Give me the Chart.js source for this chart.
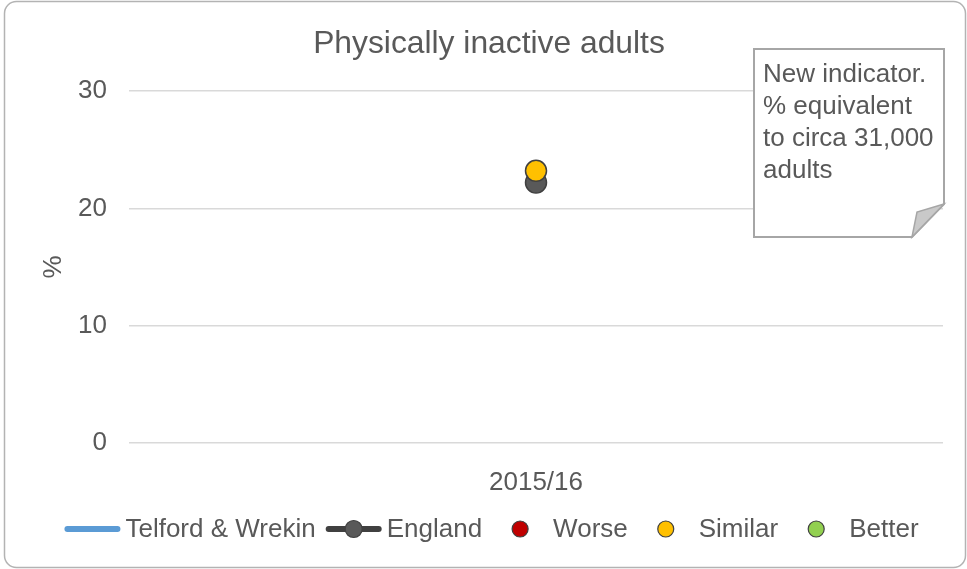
<!DOCTYPE html>
<html>
<head>
<meta charset="utf-8">
<style>
  html, body { margin: 0; padding: 0; background: #ffffff; }
  #wrap { width: 967px; height: 569px; }
</style>
<script src="https://cdn.jsdelivr.net/npm/chart.js@4/dist/chart.umd.min.js"></script>
</head>
<body>
<div id="wrap"><canvas id="c" width="967" height="569"></canvas></div>
<script>
// ---- Data ----
const chartTitle = 'Physically inactive adults';
const categories = ['2015/16'];
const telfordValues = [23.2];
const englandValues = [22.2];
const worseValues = [null];
const similarValues = [23.2];
const betterValues = [null];
const yTickValues = [0, 10, 20, 30];
const yAxisTitle = '%';
const calloutLines = ['New indicator.', '% equivalent', 'to circa 31,000', 'adults'];

const FONT = '"Liberation Sans", Arial, sans-serif';
const TEXT = '#595959';

// ---- Plugins ----
const backgroundFrame = {
  id: 'backgroundFrame',
  beforeDraw(chart) {
    const ctx = chart.ctx;
    ctx.save();
    ctx.fillStyle = '#ffffff';
    ctx.fillRect(0, 0, chart.width, chart.height);
    ctx.restore();
  },
  afterDraw(chart) {
    const ctx = chart.ctx;
    ctx.save();
    ctx.strokeStyle = '#b3b3b3';
    ctx.lineWidth = 1.5;
    ctx.beginPath();
    ctx.roundRect(4.5, 1.5, chart.width - 6, chart.height - 3, 12);
    ctx.stroke();
    ctx.restore();
  }
};

const titlePlugin = {
  id: 'customTitle',
  afterDraw(chart) {
    const ctx = chart.ctx;
    ctx.save();
    ctx.font = '31.8px ' + FONT;
    ctx.fillStyle = TEXT;
    ctx.textAlign = 'center';
    ctx.textBaseline = 'alphabetic';
    ctx.fillText(chartTitle, 489, 53);
    ctx.restore();
  }
};

const calloutPlugin = {
  id: 'callout',
  afterDraw(chart) {
    const ctx = chart.ctx;
    const L = 754, T = 49, R = 944, B = 237;
    ctx.save();
    ctx.fillStyle = '#ffffff';
    ctx.strokeStyle = '#a6a6a6';
    ctx.lineWidth = 2;
    ctx.beginPath();
    ctx.moveTo(L, T);
    ctx.lineTo(R, T);
    ctx.lineTo(R, 204);
    ctx.lineTo(912, B);
    ctx.lineTo(L, B);
    ctx.closePath();
    ctx.fill();
    ctx.stroke();
    // folded corner
    ctx.fillStyle = '#c9c9c9';
    ctx.lineWidth = 1.5;
    ctx.beginPath();
    ctx.moveTo(R, 204);
    ctx.lineTo(917, 212);
    ctx.lineTo(912, B);
    ctx.closePath();
    ctx.fill();
    ctx.stroke();
    ctx.font = '26px ' + FONT;
    ctx.fillStyle = TEXT;
    ctx.textAlign = 'left';
    ctx.textBaseline = 'alphabetic';
    calloutLines.forEach((t, i) => ctx.fillText(t, 763, 82 + i * 32));
    ctx.restore();
  }
};

const legendPlugin = {
  id: 'customLegend',
  afterDraw(chart) {
    const ctx = chart.ctx;
    const ds = chart.data.datasets;
    const symW = 56, textGap = 5, itemGap = 10, cy = 529;
    ctx.save();
    ctx.font = '26px ' + FONT;
    const widths = ds.map(d => ctx.measureText(d.label).width);
    let total = 0;
    ds.forEach((d, i) => { total += symW + textGap + widths[i] + (i < ds.length - 1 ? itemGap : 0); });
    let x = 491.5 - total / 2;
    ds.forEach((d, i) => {
      const kind = d.legendKind;
      if (kind === 'line' || kind === 'linePoint') {
        ctx.strokeStyle = d.borderColor;
        ctx.lineWidth = 6;
        ctx.lineCap = 'round';
        ctx.beginPath();
        ctx.moveTo(x + 3, cy);
        ctx.lineTo(x + symW - 3, cy);
        ctx.stroke();
      }
      if (kind === 'linePoint' || kind === 'point') {
        ctx.fillStyle = d.pointBackgroundColor;
        ctx.strokeStyle = '#404040';
        ctx.lineWidth = 1.2;
        ctx.beginPath();
        ctx.arc(x + symW / 2, cy, kind === 'linePoint' ? 8.5 : 8, 0, Math.PI * 2);
        ctx.fill();
        ctx.stroke();
      }
      ctx.fillStyle = TEXT;
      ctx.textAlign = 'left';
      ctx.textBaseline = 'middle';
      ctx.fillText(d.label, x + symW + textGap, cy + 1);
      x += symW + textGap + widths[i] + itemGap;
    });
    ctx.restore();
  }
};

// ---- Chart ----
const pointDataset = (label, data, color, order) => ({
  type: 'line',
  label,
  data,
  showLine: false,
  borderColor: '#404040',
  backgroundColor: color,
  pointBackgroundColor: color,
  pointBorderColor: '#404040',
  pointBorderWidth: 1.5,
  pointRadius: 10.5,
  pointHoverRadius: 10.5,
  legendKind: 'point',
  order
});

new Chart(document.getElementById('c'), {
  type: 'line',
  data: {
    labels: categories,
    datasets: [
      {
        label: 'Telford & Wrekin',
        data: telfordValues,
        borderColor: '#5b9bd5',
        backgroundColor: '#5b9bd5',
        pointBackgroundColor: '#5b9bd5',
        borderWidth: 4,
        pointRadius: 0,
        legendKind: 'line',
        order: 4
      },
      {
        label: 'England',
        data: englandValues,
        borderColor: '#404040',
        backgroundColor: '#595959',
        pointBackgroundColor: '#595959',
        pointBorderColor: '#404040',
        pointBorderWidth: 1.5,
        borderWidth: 4,
        pointRadius: 10.5,
        pointHoverRadius: 10.5,
        legendKind: 'linePoint',
        order: 2
      },
      pointDataset('Worse', worseValues, '#c00000', 3),
      pointDataset('Similar', similarValues, '#ffc000', 1),
      pointDataset('Better', betterValues, '#92d050', 3)
    ]
  },
  options: {
    responsive: false,
    animation: false,
    events: [],
    layout: { padding: { left: 0, right: 24, top: 91, bottom: 0 } },
    plugins: {
      legend: { display: false },
      title: { display: false },
      tooltip: { enabled: false }
    },
    scales: {
      x: {
        offset: true,
        grid: { display: false },
        border: { display: false },
        ticks: { font: { size: 26, family: FONT }, color: TEXT, padding: 16, maxRotation: 0 },
        afterFit(scale) { scale.height = 126; }
      },
      y: {
        min: 0,
        max: 30,
        afterBuildTicks(scale) { scale.ticks = yTickValues.map(v => ({ value: v })); },
        grid: { color: '#d9d9d9', lineWidth: 1.5, drawTicks: false },
        border: { display: false },
        ticks: { font: { size: 26, family: FONT }, color: TEXT, padding: 22 },
        title: {
          display: true,
          text: yAxisTitle,
          font: { size: 26, family: FONT },
          color: TEXT,
          padding: { top: 38, bottom: 0 }
        },
        afterFit(scale) { scale.width = 129; }
      }
    }
  },
  plugins: [backgroundFrame, titlePlugin, calloutPlugin, legendPlugin]
});
</script>
</body>
</html>
